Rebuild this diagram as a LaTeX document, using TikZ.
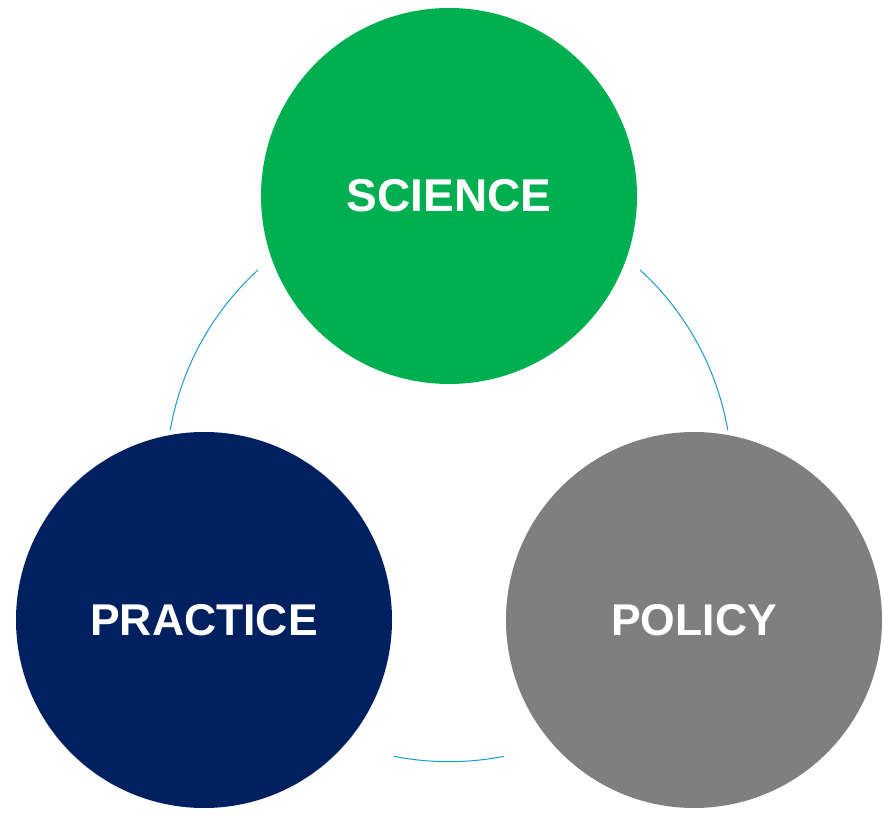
\documentclass[tikz,border=0pt]{standalone}
\usepackage{fontspec}
\setmainfont{Liberation Sans}
\definecolor{scigreen}{HTML}{00B050}
\definecolor{pracnavy}{HTML}{002060}
\definecolor{polgray}{HTML}{7F7F7F}
\definecolor{arcblue}{HTML}{1A9BCF}
\begin{document}
\begin{tikzpicture}[x=1pt,y=1pt,
  bigcircle/.style={circle,minimum size=376pt,inner sep=0pt,text=white,
    font=\fontsize{44.5}{50}\selectfont\bfseries},
  arcline/.style={draw=arcblue,line width=1pt}]
\useasboundingbox (0,0) rectangle (884,815);
\coordinate (C) at (449,336.3);
\node[bigcircle,fill=scigreen,font=\fontsize{46}{50}\selectfont\bfseries] (science) at (449,619) {\raisebox{2pt}{SCIENCE}};
\node[bigcircle,fill=pracnavy] (practice) at (204,195) {\raisebox{1pt}{PRACTICE}};
\node[bigcircle,fill=polgray] (policy) at (694,195) {\raisebox{1pt}{POLICY}};
\draw[arcline] ([shift={(132.5:283pt)}]C) arc[start angle=132.5,end angle=170.1,radius=283pt];
\draw[arcline] ([shift={(47.5:283pt)}]C) arc[start angle=47.5,end angle=9.9,radius=283pt];
\draw[arcline] ([shift={(258.8:283pt)}]C) arc[start angle=258.8,end angle=281.2,radius=283pt];
\end{tikzpicture}
\end{document}
